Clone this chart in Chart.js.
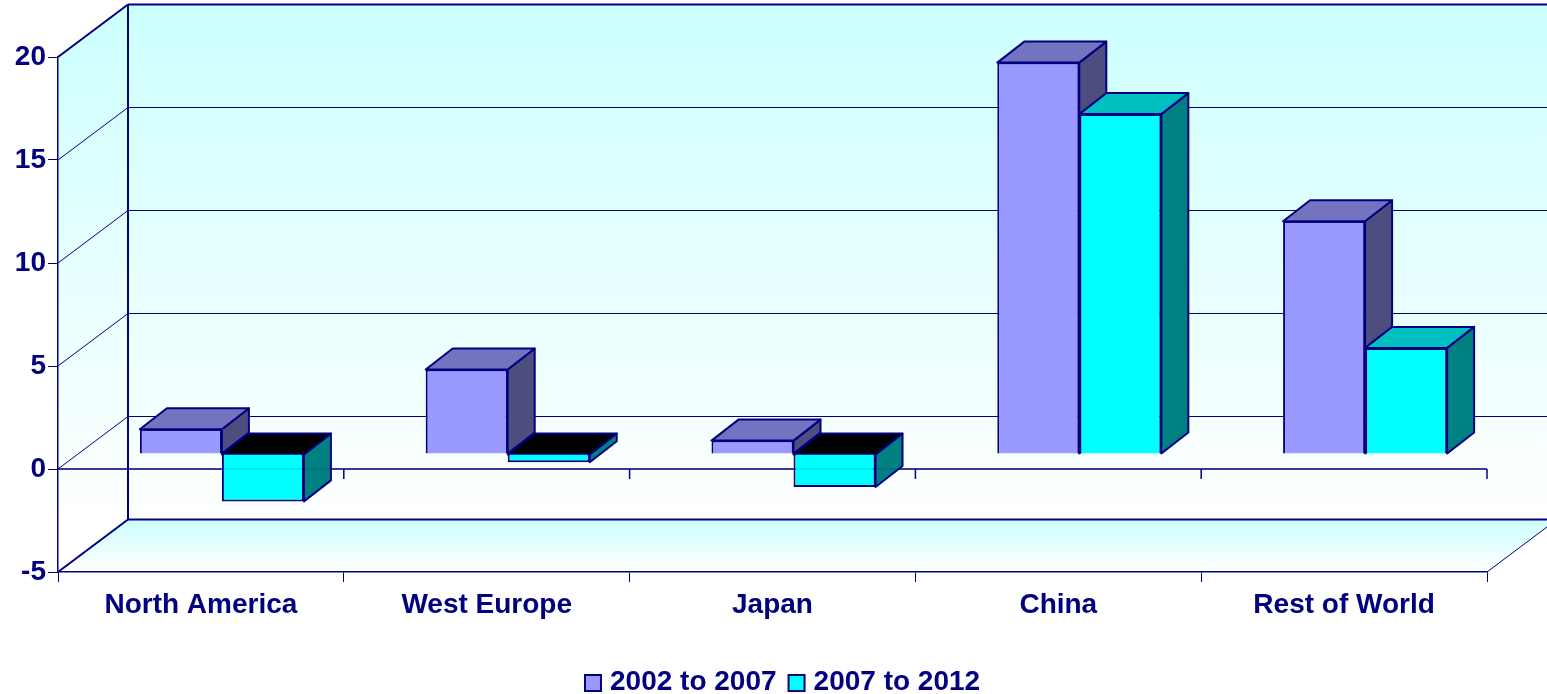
<!DOCTYPE html>
<html>
<head>
<meta charset="utf-8">
<title>Growth by region</title>
<script src="https://cdn.jsdelivr.net/npm/chart.js@4/dist/chart.umd.min.js"></script>
<style>
    body { margin: 0; background: #fff; }
    canvas { display: block; }
</style>
</head>
<body>
<canvas id="growthChart" width="1547" height="694"></canvas>
<script>
// ======================== Data ========================
const categories = ["North America", "West Europe", "Japan", "China", "Rest of World"];
const series1Name = "2002 to 2007";
const series2Name = "2007 to 2012";
const series1Values = [1.2, 4.1, 0.65, 19.0, 11.3];
const series2Values = [-2.3, -0.4, -1.6, 16.5, 5.15];

const NAVY = "#000080";
const FONT = "'Liberation Sans', Arial, sans-serif";

// depth of the box (wall) and of the bars
const wallDx = 70, wallDy = -52.5;
const barShiftX = 21, barShiftY = -15;
const barDx = 27, barDy = -21;

function poly(ctx, pts, fill, stroke, lineWidth) {
    ctx.beginPath();
    pts.forEach((p, i) => i ? ctx.lineTo(p[0], p[1]) : ctx.moveTo(p[0], p[1]));
    ctx.closePath();
    if (fill) { ctx.fillStyle = fill; ctx.fill(); }
    if (stroke) { ctx.strokeStyle = stroke; ctx.lineWidth = lineWidth; ctx.lineJoin = "round"; ctx.stroke(); }
}

function line(ctx, x1, y1, x2, y2, width, alpha) {
    ctx.save();
    ctx.globalAlpha = alpha === undefined ? 1 : alpha;
    ctx.strokeStyle = NAVY;
    ctx.lineWidth = width;
    ctx.beginPath();
    ctx.moveTo(x1, y1);
    ctx.lineTo(x2, y2);
    ctx.stroke();
    ctx.restore();
}

// ======================== 3D box behind the bars ========================
const wallsPlugin = {
    id: "walls",
    beforeDraw(chart) {
        const { ctx, scales } = chart;
        const ys = scales.y, xs = scales.x;
        const left = xs.left, right = xs.right;
        const top = ys.getPixelForValue(ys.max), bottom = ys.getPixelForValue(ys.min);

        let wallGrad = ctx.createLinearGradient(0, top + wallDy, 0, bottom + wallDy);
        wallGrad.addColorStop(0, "#ccffff");
        wallGrad.addColorStop(1, "#ffffff");
        poly(ctx, [[left + wallDx, top + wallDy], [right + wallDx, top + wallDy],
                   [right + wallDx, bottom + wallDy], [left + wallDx, bottom + wallDy]], wallGrad);
        poly(ctx, [[left, top], [left + wallDx, top + wallDy],
                   [left + wallDx, bottom + wallDy], [left, bottom]], wallGrad);

        let floorGrad = ctx.createLinearGradient(0, bottom + wallDy, 0, bottom);
        floorGrad.addColorStop(0, "#ccffff");
        floorGrad.addColorStop(1, "#ffffff");
        poly(ctx, [[left, bottom], [left + wallDx, bottom + wallDy],
                   [right + wallDx, bottom + wallDy], [right, bottom]], floorGrad);

        // grid lines on side wall and back wall
        ys.ticks.forEach(t => {
            const y = ys.getPixelForValue(t.value);
            const outer = t.value === ys.max || t.value === ys.min;
            line(ctx, left, y, left + wallDx, y + wallDy, outer ? 2 : 1);
            line(ctx, left + wallDx, y + wallDy, right + wallDx, y + wallDy, outer ? 2 : 1);
        });
        line(ctx, left + wallDx, top + wallDy, left + wallDx, bottom + wallDy, 2);
        line(ctx, right, bottom, right + wallDx, bottom + wallDy, 1);
    },
    beforeDatasetsDraw(chart) {
        const { ctx, scales } = chart;
        const ys = scales.y, xs = scales.x;
        const y0 = ys.getPixelForValue(0);

        // zero line with its ticks
        line(ctx, xs.left, y0, xs.right, y0, 1.5);
        const step = xs.width / categories.length;
        categories.forEach((c, i) => {
            const x = xs.left + step * (i + 1);
            line(ctx, x, y0, x, y0 + 10, 1.5);
        });

        // bars are moved back into the box, side and top faces go first
        ctx.save();
        ctx.translate(barShiftX, barShiftY);
        chart.data.datasets.forEach((ds, d) => {
            chart.getDatasetMeta(d).data.forEach(bar => {
                const l = bar.x - bar.width / 2, r = bar.x + bar.width / 2;
                const t = Math.min(bar.y, bar.base), b = Math.max(bar.y, bar.base);
                const negative = bar.y > bar.base;
                poly(ctx, [[r, t], [r + barDx, t + barDy], [r + barDx, b + barDy], [r, b]], ds.sideColor, NAVY, 2);
                poly(ctx, [[l, t], [l + barDx, t + barDy], [r + barDx, t + barDy], [r, t]],
                     negative ? "#000000" : ds.topColor, NAVY, 2);
            });
        });
    },
    afterDatasetsDraw(chart) {
        const { ctx, scales } = chart;
        ctx.restore();
        // zero line shows faintly through the bars
        const y0 = scales.y.getPixelForValue(0);
        line(ctx, scales.x.left, y0, scales.x.right, y0, 1, 0.2);
    },
    afterDraw(chart) {
        // legend, drawn here because the gap box-text is tighter than the built-in one
        const { ctx } = chart;
        ctx.save();
        ctx.font = "bold 28px " + FONT;
        ctx.textBaseline = "middle";
        let x = 585;
        chart.data.datasets.forEach(ds => {
            ctx.fillStyle = ds.backgroundColor;
            ctx.fillRect(x, 675, 16, 16);
            ctx.strokeStyle = NAVY;
            ctx.lineWidth = 2;
            ctx.strokeRect(x, 675, 16, 16);
            ctx.fillStyle = NAVY;
            ctx.fillText(ds.label, x + 25, 682);
            x += 25 + ctx.measureText(ds.label).width + 12;
        });
        ctx.restore();
    }
};

// ======================== Chart ========================
const ctx = document.getElementById("growthChart").getContext("2d");

new Chart(ctx, {
    type: "bar",
    data: {
        labels: categories,
        datasets: [
            {
                label: series1Name,
                data: series1Values,
                backgroundColor: "#9999ff",
                topColor: "#7373bf",
                sideColor: "#4d4d80",
                borderColor: NAVY,
                borderWidth: 2,
                clip: false
            },
            {
                label: series2Name,
                data: series2Values,
                backgroundColor: "#00ffff",
                topColor: "#00bfbf",
                sideColor: "#008080",
                borderColor: NAVY,
                borderWidth: 2,
                clip: false
            }
        ]
    },
    options: {
        responsive: false,
        animation: false,
        layout: { padding: { top: 57, right: 60 } },
        datasets: { bar: { barPercentage: 1, categoryPercentage: 0.574 } },
        plugins: { legend: { display: false }, tooltip: { enabled: false } },
        scales: {
            x: {
                afterFit: s => { s.height = 122; },
                grid: { drawOnChartArea: false, color: NAVY, tickLength: 10 },
                border: { color: NAVY, width: 1.5 },
                ticks: {
                    color: NAVY,
                    padding: 6,
                    maxRotation: 0,
                    font: { family: FONT, size: 28, weight: "bold" }
                }
            },
            y: {
                min: -5,
                max: 20,
                afterFit: s => { s.width = 58; },
                grid: { drawOnChartArea: false, color: NAVY, tickLength: 10 },
                border: { color: NAVY, width: 1.5 },
                ticks: {
                    stepSize: 5,
                    color: NAVY,
                    padding: 2,
                    font: { family: FONT, size: 28, weight: "bold" }
                }
            }
        }
    },
    plugins: [wallsPlugin]
});
</script>
</body>
</html>
